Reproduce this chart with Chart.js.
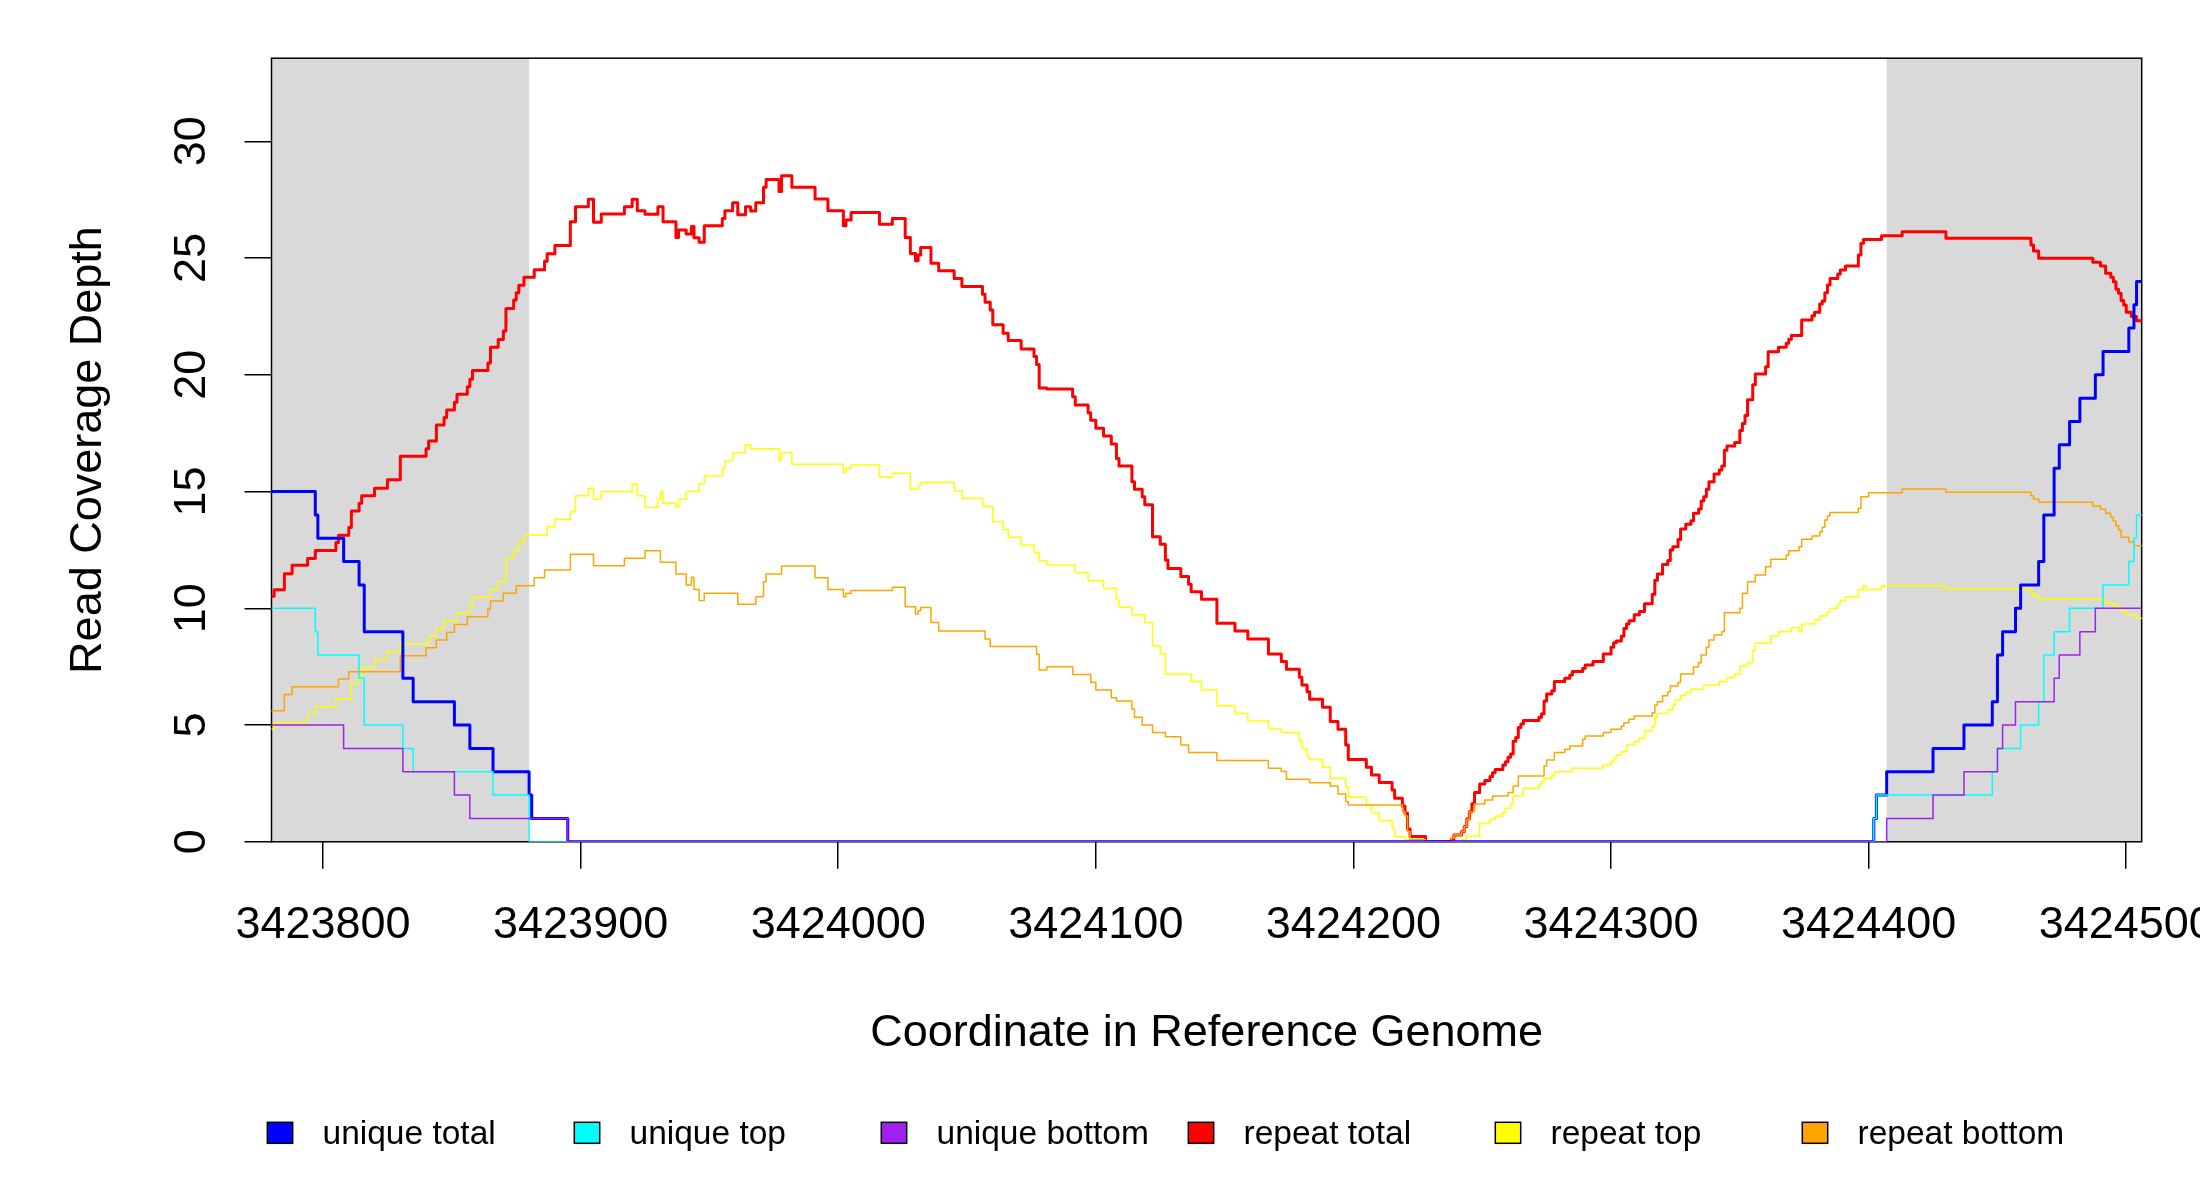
<!DOCTYPE html>
<html>
<head>
<meta charset="utf-8">
<script src="https://cdn.jsdelivr.net/npm/chart.js@4.4.0/dist/chart.umd.min.js"></script>
<style>html,body{margin:0;padding:0;background:#fff;}canvas{display:block;}</style>
</head>
<body>
<canvas id="c" width="2200" height="1200"></canvas>
<script>
// ---------------- DATA (step series: [position, depth from this position on]) ----------------
const seriesLabels = ['unique total', 'unique top', 'unique bottom', 'repeat total', 'repeat top', 'repeat bottom'];
const seriesColors = ['#0000FF', '#00FFFF', '#A020F0', '#FF0000', '#FFFF00', '#FFA500'];

const xTickValues = [3423800, 3423900, 3424000, 3424100, 3424200, 3424300, 3424400, 3424500];
const yTickValues = [0, 5, 10, 15, 20, 25, 30];
const xRange = [3423780, 3424506];
const yRange = [0, 33.56];
const shadedRegions = [[3423780, 3423880], [3424407, 3424506]];

const uniqueTotal = [[3423780,15],[3423797,14],[3423798,13],[3423808,12],[3423814,11],[3423816,9],[3423831,7],[3423835,6],[3423851,5],[3423857,4],[3423866,3],[3423880,2],[3423881,1],[3423895,0],[3424402,1],[3424403,2],[3424407,3],[3424425,4],[3424437,5],[3424448,6],[3424450,8],[3424452,9],[3424457,10],[3424459,11],[3424466,12],[3424468,14],[3424472,16],[3424474,17],[3424478,18],[3424482,19],[3424488,20],[3424491,21],[3424501,22],[3424503,23],[3424504,24],[3424506,24]];

const uniqueTop = [[3423780,10],[3423797,9],[3423798,8],[3423814,7],[3423816,5],[3423831,4],[3423835,3],[3423866,2],[3423880,0],[3424402,1],[3424403,2],[3424448,3],[3424450,4],[3424459,5],[3424466,6],[3424468,8],[3424472,9],[3424478,10],[3424491,11],[3424501,12],[3424503,13],[3424504,14],[3424506,14]];

const uniqueBottom = [[3423780,5],[3423808,4],[3423831,3],[3423851,2],[3423857,1],[3423895,0],[3424407,1],[3424425,2],[3424437,3],[3424450,4],[3424452,5],[3424457,6],[3424472,7],[3424474,8],[3424482,9],[3424488,10],[3424506,10]];

const repeatTotal = [[3423780,10.52],[3423781,10.8],[3423785,11.48],[3423788,11.84],[3423794,12.13],[3423797,12.48],[3423805,12.82],[3423806,13.13],[3423810,13.46],[3423811,14.17],[3423814,14.5],[3423815,14.82],[3423820,15.14],[3423825,15.51],[3423830,16.51],[3423840,16.83],[3423841,17.17],[3423844,17.85],[3423847,18.17],[3423848,18.49],[3423851,18.82],[3423852,19.17],[3423856,19.49],[3423857,19.81],[3423858,20.18],[3423864,20.51],[3423865,21.18],[3423868,21.51],[3423870,21.88],[3423871,22.84],[3423874,23.2],[3423875,23.52],[3423876,23.84],[3423878,24.18],[3423882,24.5],[3423886,24.86],[3423887,25.18],[3423890,25.54],[3423896,26.56],[3423898,27.2],[3423903,27.52],[3423905,26.53],[3423908,26.89],[3423917,27.2],[3423920,27.52],[3423922,27.03],[3423925,26.88],[3423930,27.2],[3423932,26.56],[3423937,25.88],[3423938,26.2],[3423941,26.03],[3423943,26.35],[3423944,25.87],[3423946,25.68],[3423948,26.38],[3423955,26.7],[3423956,27.03],[3423959,27.37],[3423961,26.85],[3423964,27.2],[3423966,27.02],[3423968,27.37],[3423971,28.03],[3423972,28.37],[3423977,27.85],[3423978,28.53],[3423982,28.03],[3423991,27.53],[3423996,27.03],[3424002,26.38],[3424003,26.63],[3424005,26.95],[3424016,26.45],[3424021,26.7],[3424026,25.88],[3424028,25.2],[3424030,24.88],[3424031,25.13],[3424032,25.45],[3424036,24.78],[3424039,24.46],[3424045,24.13],[3424048,23.78],[3424056,23.45],[3424057,23.11],[3424059,22.78],[3424060,22.14],[3424064,21.78],[3424066,21.47],[3424071,21.11],[3424076,20.78],[3424077,20.44],[3424078,19.43],[3424081,19.39],[3424091,19.06],[3424092,18.71],[3424097,18.38],[3424098,18.05],[3424100,17.71],[3424103,17.38],[3424106,17.04],[3424108,16.42],[3424109,16.1],[3424114,15.42],[3424115,15.1],[3424118,14.78],[3424119,14.43],[3424122,13.07],[3424125,12.74],[3424127,12.07],[3424128,11.71],[3424133,11.36],[3424136,11.03],[3424137,10.71],[3424141,10.39],[3424147,9.36],[3424154,9.03],[3424159,8.69],[3424167,8.04],[3424172,7.72],[3424174,7.39],[3424179,7.05],[3424180,6.72],[3424182,6.43],[3424183,6.1],[3424188,5.76],[3424191,5.15],[3424194,4.82],[3424197,4.15],[3424198,3.53],[3424205,3.19],[3424207,2.86],[3424210,2.54],[3424215,2.22],[3424216,1.86],[3424219,1.53],[3424220,1.22],[3424221,0.55],[3424222,0.23],[3424228,0],[3424238,0.12],[3424239,0.29],[3424242,0.44],[3424243,0.66],[3424244,0.98],[3424245,1.29],[3424246,1.63],[3424247,2.11],[3424249,2.48],[3424251,2.63],[3424253,2.8],[3424254,2.96],[3424255,3.1],[3424258,3.29],[3424259,3.43],[3424260,3.62],[3424261,3.76],[3424262,4.31],[3424263,4.47],[3424264,4.9],[3424265,5.05],[3424266,5.19],[3424272,5.33],[3424273,5.48],[3424274,6.03],[3424275,6.33],[3424277,6.47],[3424278,6.86],[3424282,7.0],[3424284,7.14],[3424285,7.29],[3424289,7.43],[3424290,7.57],[3424293,7.72],[3424297,8.04],[3424300,8.33],[3424301,8.53],[3424302,8.6],[3424304,8.8],[3424305,9.14],[3424306,9.33],[3424307,9.47],[3424309,9.72],[3424311,9.86],[3424313,10.19],[3424316,10.6],[3424317,11.2],[3424318,11.47],[3424320,11.88],[3424322,12.05],[3424323,12.5],[3424324,12.64],[3424326,12.95],[3424327,13.4],[3424329,13.6],[3424331,13.75],[3424332,14.07],[3424334,14.25],[3424335,14.6],[3424336,14.78],[3424337,15.1],[3424338,15.42],[3424340,15.75],[3424342,15.92],[3424343,16.1],[3424344,16.77],[3424345,16.95],[3424348,17.1],[3424350,17.62],[3424351,17.92],[3424352,18.26],[3424353,18.93],[3424355,19.57],[3424356,20.03],[3424360,20.35],[3424361,20.99],[3424365,21.18],[3424368,21.35],[3424369,21.52],[3424370,21.68],[3424374,22.35],[3424378,22.53],[3424379,22.68],[3424381,23.03],[3424382,23.16],[3424383,23.52],[3424384,23.85],[3424385,24.13],[3424388,24.32],[3424389,24.49],[3424391,24.66],[3424396,25.13],[3424397,25.63],[3424398,25.8],[3424405,25.96],[3424413,26.13],[3424430,25.85],[3424463,25.56],[3424464,25.3],[3424466,24.99],[3424487,24.82],[3424490,24.66],[3424492,24.35],[3424494,24.18],[3424495,23.99],[3424496,23.66],[3424497,23.49],[3424498,23.18],[3424499,22.99],[3424500,22.68],[3424502,22.5],[3424504,22.32],[3424506,22.32]];

const repeatTop = [[3423780,4.83],[3423781,5.11],[3423794,5.47],[3423797,5.78],[3423805,6.11],[3423811,6.78],[3423814,7.11],[3423815,7.45],[3423820,7.81],[3423825,8.14],[3423830,8.47],[3423841,8.81],[3423844,9.14],[3423847,9.47],[3423852,9.81],[3423857,10.14],[3423858,10.47],[3423865,10.81],[3423868,11.14],[3423871,12.14],[3423874,12.47],[3423876,12.81],[3423878,13.14],[3423887,13.49],[3423890,13.81],[3423896,14.14],[3423898,14.82],[3423903,15.14],[3423905,14.66],[3423908,14.99],[3423920,15.32],[3423922,14.82],[3423925,14.32],[3423930,14.68],[3423931,14.99],[3423932,14.5],[3423937,14.33],[3423938,14.67],[3423941,15.0],[3423946,15.33],[3423948,15.67],[3423955,16.0],[3423956,16.33],[3423959,16.67],[3423964,17.0],[3423966,16.83],[3423977,16.33],[3423978,16.67],[3423982,16.17],[3424002,15.83],[3424003,16.0],[3424005,16.14],[3424016,15.61],[3424021,15.78],[3424028,15.1],[3424031,15.25],[3424032,15.4],[3424045,15.04],[3424048,14.71],[3424056,14.36],[3424060,13.71],[3424064,13.38],[3424066,13.04],[3424071,12.71],[3424076,12.38],[3424078,12.04],[3424081,11.86],[3424092,11.53],[3424097,11.19],[3424103,10.86],[3424108,10.36],[3424109,10.04],[3424114,9.72],[3424119,9.39],[3424122,8.39],[3424125,8.05],[3424127,7.19],[3424137,6.86],[3424141,6.5],[3424147,5.83],[3424154,5.5],[3424159,5.17],[3424167,4.83],[3424172,4.68],[3424179,4.33],[3424180,4.0],[3424182,3.67],[3424183,3.53],[3424188,3.19],[3424191,2.72],[3424197,2.36],[3424198,1.91],[3424205,1.58],[3424207,1.26],[3424210,0.91],[3424215,0.58],[3424216,0.22],[3424220,0.08],[3424222,0],[3424242,0.1],[3424244,0.25],[3424249,0.8],[3424253,0.96],[3424255,1.11],[3424258,1.26],[3424259,1.43],[3424261,1.62],[3424262,1.96],[3424266,2.29],[3424272,2.43],[3424273,2.57],[3424274,2.72],[3424277,2.86],[3424278,3.0],[3424285,3.15],[3424297,3.29],[3424300,3.43],[3424301,3.57],[3424302,3.72],[3424304,3.86],[3424306,4.15],[3424309,4.29],[3424311,4.43],[3424313,4.76],[3424316,4.96],[3424317,5.33],[3424318,5.5],[3424322,5.65],[3424324,5.86],[3424325,6.07],[3424327,6.25],[3424329,6.39],[3424331,6.53],[3424336,6.71],[3424342,6.86],[3424345,7.03],[3424348,7.19],[3424350,7.53],[3424353,7.68],[3424355,8.19],[3424356,8.5],[3424362,8.81],[3424365,9.0],[3424370,9.17],[3424373,9.0],[3424374,9.33],[3424379,9.5],[3424381,9.67],[3424384,9.84],[3424385,10.0],[3424388,10.18],[3424389,10.33],[3424391,10.5],[3424396,10.81],[3424398,10.97],[3424399,10.81],[3424405,10.97],[3424430,10.83],[3424463,10.67],[3424464,10.53],[3424466,10.4],[3424492,10.24],[3424495,10.1],[3424498,9.9],[3424500,9.71],[3424504,9.57],[3424506,9.57]];

const repeatBottom = [[3423780,5.61],[3423785,6.31],[3423788,6.64],[3423806,6.97],[3423810,7.28],[3423830,7.97],[3423840,8.31],[3423844,8.64],[3423848,8.97],[3423851,9.31],[3423856,9.64],[3423864,9.97],[3423865,10.31],[3423870,10.64],[3423875,10.97],[3423882,11.31],[3423886,11.64],[3423896,12.31],[3423905,11.82],[3423917,12.14],[3423925,12.47],[3423931,11.97],[3423937,11.47],[3423941,11.0],[3423943,11.33],[3423944,10.81],[3423946,10.33],[3423948,10.64],[3423961,10.17],[3423968,10.5],[3423971,11.14],[3423972,11.47],[3423978,11.81],[3423991,11.31],[3423996,10.81],[3424002,10.5],[3424003,10.64],[3424005,10.76],[3424021,10.9],[3424026,10.07],[3424030,9.76],[3424031,9.9],[3424032,10.03],[3424036,9.39],[3424039,9.03],[3424057,8.69],[3424059,8.36],[3424077,8.03],[3424078,7.36],[3424081,7.5],[3424091,7.17],[3424098,6.83],[3424100,6.5],[3424106,6.17],[3424108,6.03],[3424114,5.69],[3424115,5.33],[3424118,5.0],[3424122,4.68],[3424127,4.5],[3424133,4.15],[3424136,3.82],[3424147,3.48],[3424167,3.15],[3424172,3.01],[3424174,2.68],[3424183,2.53],[3424191,2.39],[3424194,2.05],[3424197,1.72],[3424198,1.58],[3424219,1.29],[3424220,1.11],[3424221,0.44],[3424222,0.1],[3424228,0],[3424238,0.15],[3424239,0.29],[3424242,0.44],[3424243,0.65],[3424244,0.96],[3424245,1.29],[3424247,1.62],[3424251,1.79],[3424254,1.96],[3424260,2.11],[3424262,2.39],[3424264,2.82],[3424274,3.25],[3424275,3.5],[3424278,3.82],[3424282,3.96],[3424284,4.1],[3424289,4.39],[3424290,4.53],[3424297,4.68],[3424300,4.82],[3424304,4.96],[3424305,5.1],[3424307,5.25],[3424309,5.39],[3424316,5.53],[3424317,5.86],[3424318,6.0],[3424320,6.25],[3424322,6.43],[3424323,6.67],[3424326,6.82],[3424327,7.19],[3424332,7.5],[3424334,7.67],[3424335,8.0],[3424337,8.33],[3424338,8.64],[3424340,8.86],[3424343,9.0],[3424344,9.81],[3424350,10.0],[3424351,10.64],[3424353,11.14],[3424356,11.43],[3424360,11.78],[3424362,12.1],[3424368,12.28],[3424369,12.47],[3424373,12.64],[3424374,12.96],[3424378,13.1],[3424381,13.28],[3424382,13.47],[3424383,13.78],[3424384,13.95],[3424385,14.1],[3424396,14.28],[3424397,14.78],[3424400,14.95],[3424413,15.11],[3424430,14.97],[3424463,14.82],[3424464,14.68],[3424466,14.54],[3424487,14.38],[3424490,14.24],[3424492,14.07],[3424494,13.9],[3424495,13.74],[3424496,13.54],[3424497,13.35],[3424498,13.04],[3424501,12.85],[3424503,12.68],[3424506,12.68]];

const seriesData = [uniqueTotal, uniqueTop, uniqueBottom, repeatTotal, repeatTop, repeatBottom];
const seriesWidths = [3, 1.5, 1.5, 3, 1.5, 1.5];
const seriesOrder = [2, 1, 0, 5, 4, 3];   // draw repeat series first, unique bottom last

// ---------------- CHART ----------------
const FONT = '"Liberation Sans", Arial, sans-serif';

const datasets = seriesLabels.map((label, i) => ({
  label,
  data: seriesData[i].map(p => ({x: p[0], y: p[1]})),
  borderColor: seriesColors[i],
  backgroundColor: seriesColors[i],
  borderWidth: seriesWidths[i],
  stepped: 'before',
  pointRadius: 0,
  fill: false,
  order: seriesOrder[i],
  borderJoinStyle: 'round',
  borderCapStyle: 'round'
}));

const plotDecor = {
  id: 'plotDecor',
  beforeDatasetsDraw(chart) {
    const {ctx, chartArea: a, scales: {x}} = chart;
    ctx.save();
    ctx.fillStyle = '#D9D9D9';
    shadedRegions.forEach(([s, e]) => {
      const x0 = x.getPixelForValue(s), x1 = x.getPixelForValue(e);
      ctx.fillRect(x0, a.top, x1 - x0, a.bottom - a.top);
    });
    ctx.strokeStyle = '#000';
    ctx.lineWidth = 1.5;
    ctx.strokeRect(a.left, a.top, a.right - a.left, a.bottom - a.top);
    ctx.restore();
  },
  afterDraw(chart) {
    const ctx = chart.ctx;
    ctx.save();
    ctx.font = '33.5px ' + FONT;
    ctx.textBaseline = 'alphabetic';
    ctx.textAlign = 'left';
    chart.data.datasets.forEach((ds, i) => {
      const cx = 280 + 307 * i;
      ctx.fillStyle = ds.borderColor;
      ctx.fillRect(cx - 12.7, 1122.3, 25.4, 21);
      ctx.strokeStyle = '#000';
      ctx.lineWidth = 1.5;
      ctx.strokeRect(cx - 12.7, 1122.3, 25.4, 21);
      ctx.fillStyle = '#000';
      ctx.fillText(ds.label, cx + 42.5, 1144.3);
    });
    ctx.restore();
  }
};

new Chart(document.getElementById('c'), {
  type: 'line',
  data: {datasets},
  plugins: [plotDecor],
  options: {
    responsive: false,
    devicePixelRatio: 1,
    animation: false,
    events: [],
    layout: {autoPadding: false, padding: {left: 0, right: 58.3, top: 58.2, bottom: 108.2}},
    plugins: {legend: {display: false}, tooltip: {enabled: false}},
    scales: {
      x: {
        type: 'linear',
        min: xRange[0], max: xRange[1],
        afterFit(s) { s.height = 250; s.paddingLeft = 0; s.paddingRight = 0; },
        afterBuildTicks(s) { s.ticks = xTickValues.map(v => ({value: v})); },
        border: {display: false},
        grid: {drawOnChartArea: false, drawTicks: true, tickLength: 27, color: '#000', lineWidth: 1.5},
        ticks: {
          autoSkip: false, maxRotation: 0, minRotation: 0, padding: 29.5,
          color: '#000', font: {family: FONT, size: 45},
          callback: v => String(v)
        },
        title: {
          display: true, text: 'Coordinate in Reference Genome', color: '#000',
          font: {family: FONT, size: 45, lineHeight: 1}, padding: {top: 0, bottom: 36}
        }
      },
      y: {
        type: 'linear',
        min: yRange[0], max: yRange[1],
        afterFit(s) { s.width = 271.5; s.paddingTop = 0; s.paddingBottom = 0; },
        afterBuildTicks(s) { s.ticks = yTickValues.map(v => ({value: v})); },
        border: {display: false},
        grid: {drawOnChartArea: false, drawTicks: true, tickLength: 27, color: '#000', lineWidth: 1.5},
        ticks: {
          autoSkip: false, minRotation: 90, maxRotation: 90, padding: 26.5, crossAlign: 'center',
          color: '#000', font: {family: FONT, size: 45},
          callback: v => String(v)
        },
        title: {
          display: true, text: 'Read Coverage Depth', color: '#000',
          font: {family: FONT, size: 45, lineHeight: 1}, padding: {top: 66, bottom: 0}
        }
      }
    }
  }
});
</script>
</body>
</html>
